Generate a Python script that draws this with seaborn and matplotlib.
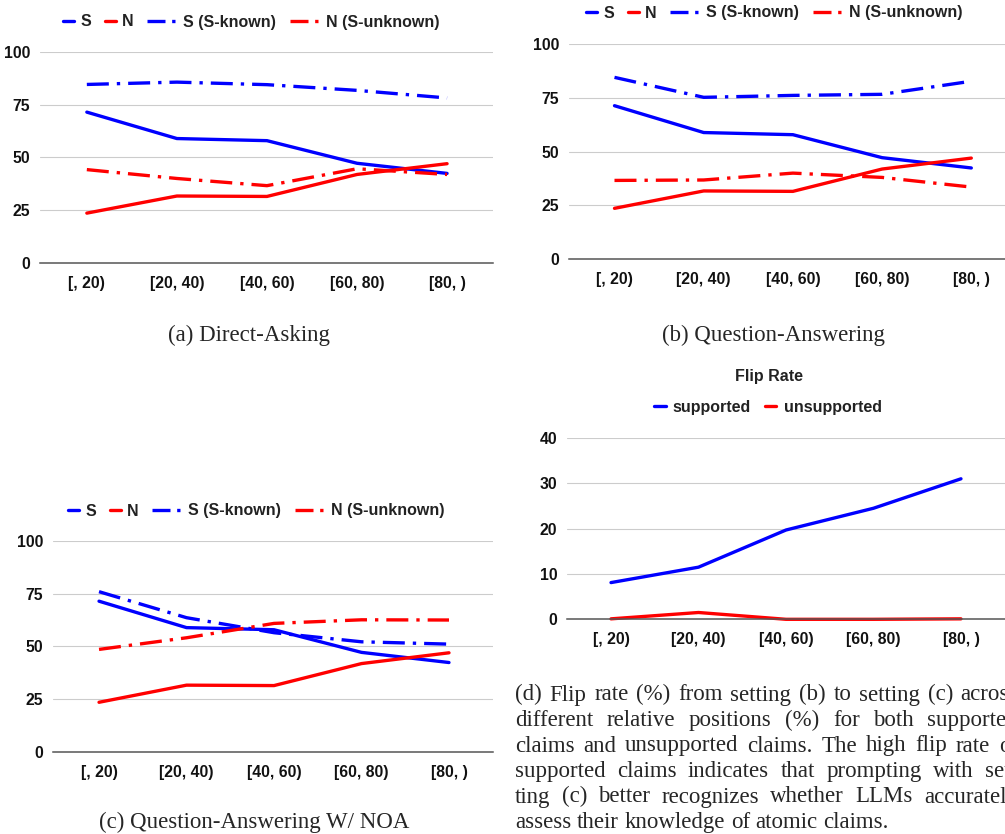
import matplotlib
matplotlib.use("Agg")
import seaborn as sns, matplotlib.pyplot as plt
import pandas as pd
from matplotlib.lines import Line2D
from matplotlib.legend_handler import HandlerLine2D

sns.set_style("white")
plt.rcParams['font.family'] = ['Liberation Sans', 'DejaVu Sans']

cats = ['[, 20)', '[20, 40)', '[40, 60)', '[60, 80)', '[80, )']

# baseline S / N, same in (a), (b), (c)
s_base = [71.4, 58.9, 57.9, 47.2, 42.4]
n_base = [23.6, 31.7, 31.5, 41.9, 47.0]
# (a) direct asking
a_s_known = [84.5, 85.6, 84.4, 81.7, 78.1]
a_n_unknown = [44.2, 40.0, 36.6, 44.6, 41.9]
# (b) question answering
b_s_known = [84.6, 75.3, 76.2, 76.7, 82.8]
b_n_unknown = [36.6, 36.8, 40.0, 38.0, 33.5]
# (c) QA w/ NOA
c_s_known = [75.9, 63.6, 56.5, 52.2, 51.1]
c_n_unknown = [48.6, 54.1, 60.9, 62.6, 62.5]
# (d) flip rate
flip_sup = [8.1, 11.5, 19.7, 24.5, 31.0]
flip_unsup = [0.1, 1.5, 0.0, 0.0, 0.1]

W, H = 1005, 834
BLUE, RED = '#0000ff', '#ff0000'
LW = 2.4
DASHDOT = (0, (6.6, 2.4, 1.0, 2.4))
LEG_DASHDOT = (0, (5.4, 2.0, 1.0, 2.0))
SERIF = ['Liberation Serif', 'DejaVu Serif']

fig = plt.figure(figsize=(W / 100, H / 100), dpi=100)


def px_axes(left, top, right, bottom):
    return fig.add_axes([left / W, 1 - bottom / H, (right - left) / W, (bottom - top) / H])


def fx(x):
    return x / W


def fy(y):
    return 1 - y / H


class ShortLine(HandlerLine2D):
    def legend_artist(self, legend, orig_handle, fontsize, handlebox):
        handlebox.width = 0.7 * fontsize
        return super().legend_artist(legend, orig_handle, fontsize, handlebox)


def style_axes(ax, xlim, ylim, yticks):
    ax.set_xlim(xlim)
    ax.set_ylim(ylim)
    ax.set_yticks(yticks)
    ax.set_xticks(range(len(cats)))
    ax.set_xticklabels(cats)
    ax.set_xlabel('')
    ax.set_ylabel('')
    ax.grid(axis='y', color='#cccccc', lw=0.8)
    ax.grid(axis='x', visible=False)
    for s in ['top', 'left', 'right']:
        ax.spines[s].set_visible(False)
    ax.spines['bottom'].set_color('#555555')
    ax.spines['bottom'].set_linewidth(1.1)
    ax.tick_params(axis='both', length=0, labelsize=11.3, labelcolor='#111111')
    ax.tick_params(axis='y', pad=7)
    ax.tick_params(axis='x', pad=9.5)
    for t in ax.get_xticklabels() + ax.get_yticklabels():
        t.set_fontweight('bold')
    ax.set_facecolor('none')


def four_lines(ax, s_known, n_unknown, leg_x, leg_y):
    sns.lineplot(x=cats, y=s_base, color=BLUE, lw=LW, ax=ax, sort=False, legend=False, clip_on=False)
    sns.lineplot(x=cats, y=n_base, color=RED, lw=LW, ax=ax, sort=False, legend=False, clip_on=False)
    sns.lineplot(x=cats, y=s_known, color=BLUE, lw=LW, linestyle=DASHDOT, ax=ax, sort=False,
                 legend=False, clip_on=False)
    sns.lineplot(x=cats, y=n_unknown, color=RED, lw=LW, linestyle=DASHDOT, ax=ax, sort=False,
                 legend=False, clip_on=False)
    hs = Line2D([], [], color=BLUE, lw=LW)
    hn = Line2D([], [], color=RED, lw=LW)
    hsk = Line2D([], [], color=BLUE, lw=LW, linestyle=LEG_DASHDOT)
    hnu = Line2D([], [], color=RED, lw=LW, linestyle=LEG_DASHDOT)
    leg = fig.legend([hs, hn, hsk, hnu], ['S', 'N', 'S (S-known)', 'N (S-unknown)'],
                     handler_map={hs: ShortLine(), hn: ShortLine()},
                     loc='center', bbox_to_anchor=(fx(leg_x), fy(leg_y)), ncol=4, frameon=False,
                     handlelength=1.85, handletextpad=0.4, columnspacing=0.85,
                     borderpad=0, borderaxespad=0,
                     prop={'size': 11.5, 'weight': 'bold'})
    for t in leg.get_texts():
        t.set_color('#222222')


# (a)
ax_a = px_axes(40, 51.7, 493, 263)
four_lines(ax_a, a_s_known, a_n_unknown, 251, 22)
style_axes(ax_a, (-0.52, 4.51), (0, 100), [0, 25, 50, 75, 100])

# (b)
ax_b = px_axes(569, 44.3, 1016.8, 259)
four_lines(ax_b, b_s_known, b_n_unknown, 774, 13)
style_axes(ax_b, (-0.51, 4.51), (0, 100), [0, 25, 50, 75, 100])

# (c)
ax_c = px_axes(53, 540.7, 493, 752.2)
four_lines(ax_c, c_s_known, c_n_unknown, 256, 511)
style_axes(ax_c, (-0.526, 4.503), (0, 100), [0, 25, 50, 75, 100])

# (d) flip rate
ax_d = px_axes(567, 438, 1005.6, 619.3)
sns.lineplot(x=cats, y=flip_sup, color=BLUE, lw=LW, ax=ax_d, sort=False, legend=False, clip_on=False)
sns.lineplot(x=cats, y=flip_unsup, color=RED, lw=LW, ax=ax_d, sort=False, legend=False, clip_on=False)
style_axes(ax_d, (-0.503, 4.51), (0, 40), [0, 10, 20, 30, 40])
hsup = Line2D([], [], color=BLUE, lw=LW)
hun = Line2D([], [], color=RED, lw=LW)
leg = fig.legend([hsup, hun], ['supported', 'unsupported'],
                 handler_map={hsup: ShortLine(), hun: ShortLine()},
                 loc='center', bbox_to_anchor=(fx(768), fy(407)), ncol=2, frameon=False,
                 handlelength=1.9, handletextpad=0.45, columnspacing=0.9,
                 borderpad=0, borderaxespad=0, prop={'size': 11.5, 'weight': 'bold'})
for t in leg.get_texts():
    t.set_color('#222222')
fig.text(fx(769), fy(376.7), 'Flip Rate', ha='center', va='center', fontsize=11.5,
         fontweight='bold', color='#222222')

# captions
cap_fs = 16.5
fig.text(fx(249), fy(341.5), '(a) Direct-Asking', ha='center', va='baseline',
         fontsize=cap_fs, family=SERIF)
fig.text(fx(773), fy(341.5), '(b) Question-Answering', ha='center', va='baseline',
         fontsize=cap_fs, family=SERIF)
fig.text(fx(254), fy(828), '(c) Question-Answering W/ NOA', ha='center', va='baseline',
         fontsize=cap_fs, family=SERIF)

cap_d = [
    '(d) Flip rate (%) from setting (b) to setting (c) across',
    'different relative positions (%) for both supported',
    'claims and unsupported claims. The high flip rate of',
    'supported claims indicates that prompting with set-',
    'ting (c) better recognizes whether LLMs accurately',
    'assess their knowledge of atomic claims.',
]
renderer = fig.canvas.get_renderer()
x0, col_w, base0, step = 515, 503, 700.5, 25.5
for i, line in enumerate(cap_d):
    words = line.split()
    arts = [fig.text(0, 0, w, fontsize=cap_fs, family=SERIF, va='baseline') for w in words]
    widths = [a.get_window_extent(renderer).width for a in arts]
    if i == len(cap_d) - 1:
        gap = 0.25 * cap_fs * 100 / 72
    else:
        gap = (col_w - sum(widths)) / (len(words) - 1)
    x = x0
    for a, w in zip(arts, widths):
        a.set_position((fx(x), fy(base0 + i * step)))
        x += w + gap

fig.savefig('out.png', dpi=100)
